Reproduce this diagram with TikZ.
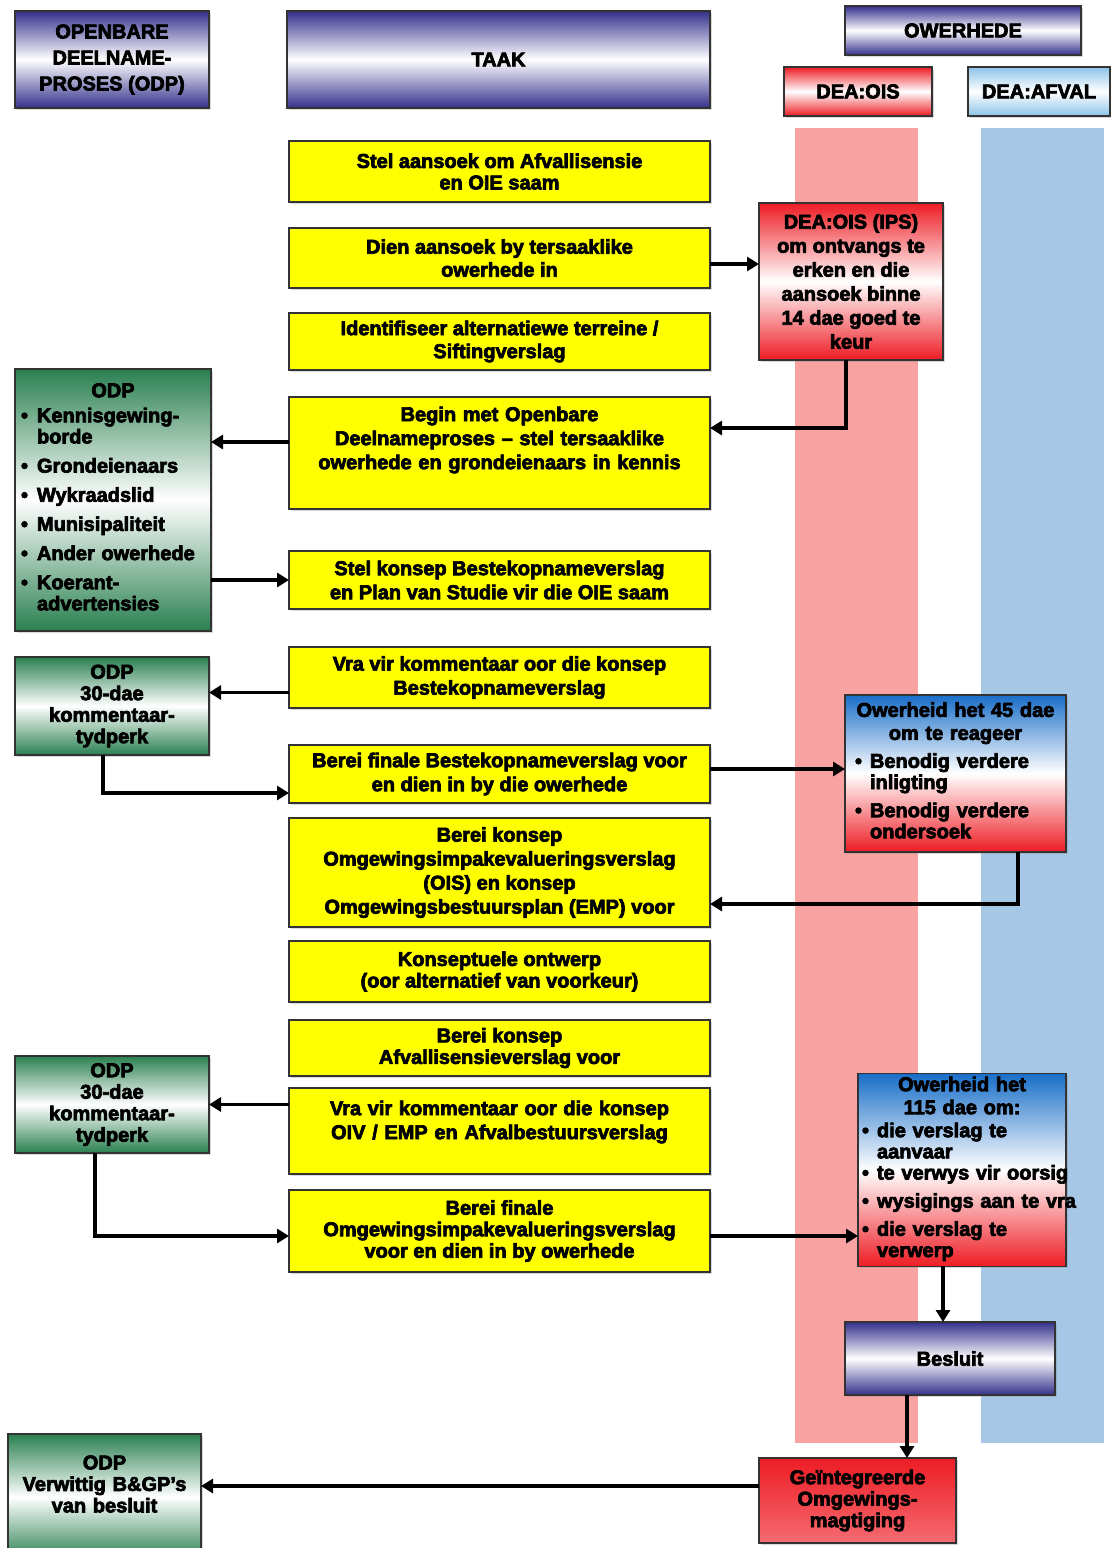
\documentclass[tikz,border=0pt]{standalone}
\usepackage{fontspec}
\setmainfont{Liberation Sans}[BoldFeatures={FakeBold=3.5}]
\usetikzlibrary{positioning,arrows.meta,shadows}
\definecolor{donkerblou}{RGB}{52,48,140}
\definecolor{groen}{RGB}{42,128,80}
\definecolor{rooi}{RGB}{238,28,36}
\definecolor{blou}{RGB}{25,110,200}
\definecolor{ligblou}{RGB}{140,195,232}
\definecolor{pienk}{RGB}{248,162,162}
\definecolor{kolomblou}{RGB}{166,200,230}
\definecolor{geel}{RGB}{255,255,0}
\renewcommand{\arraystretch}{0.92}

\begin{document}
\begin{tikzpicture}[x=1pt,y=-1pt,
			every node/.style={draw=black!80,line width=1.3pt,inner sep=3pt,outer sep=0pt,align=center,
				font=\fontsize{20}{23}\selectfont\bfseries,
				drop shadow={opacity=0.3,shadow xshift=2pt,shadow yshift=-2pt}},
			nou/.style={font=\fontsize{20}{21.5}\selectfont\bfseries},
			wyd/.style={font=\fontsize{20}{24}\selectfont\bfseries},
			kop/.style={top color=donkerblou,bottom color=donkerblou,middle color=white},
			taak/.style={fill=geel,minimum width=421pt},
			odp/.style={top color=groen,bottom color=groen,middle color=white},
			rooiblok/.style={top color=rooi,bottom color=rooi,middle color=white},
			afvalblok/.style={top color=ligblou,bottom color=ligblou,middle color=white},
			owerheid/.style={top color=blou,bottom color=rooi,middle color=white},
			pyl/.style={line width=3.5pt,-{Triangle[length=12pt,width=14pt]}},
			maat/.style 2 args={minimum width=#1pt,minimum height=#2pt}
			]
		\useasboundingbox (0,0) rectangle (1111,1548);
		\fill[pienk] (795,128) rectangle (918,1443);
		\fill[kolomblou] (981,128) rectangle (1104,1443);

		\node[kop,maat={194}{97}] (kop1) at (112,59.5) {OPENBARE\\[3pt]DEELNAME-\\[3pt]PROSES (ODP)};
		\node[kop,maat={423}{97}] (kop2) at (498.5,59.5) {TAAK};
		\node[kop,maat={236}{49}] (kop3) at (963,30.5) {OWERHEDE};
		\node[rooiblok,maat={148}{49}] (ois) at (858,91.5) {DEA:OIS};
		\node[afvalblok,maat={142}{49}] (afval) at (1039,91.5) {DEA:AFVAL};

		\node[taak,nou,minimum height=61pt] (t1) at (499.5,171.5) {Stel aansoek om Afvallisensie\\en OIE saam};
		\node[taak,minimum height=60pt] (t2) at (499.5,258) {Dien aansoek by tersaaklike\\owerhede in};
		\node[taak,minimum height=57pt] (t3) at (499.5,341.5) {Identifiseer alternatiewe terreine /\\Siftingverslag};
		\node[taak,wyd,minimum height=112pt,text width=415pt] (t4) at (499.5,453) {Begin met Openbare\\Deelnameproses – stel tersaaklike\\owerhede en grondeienaars in kennis\par\vspace{26pt}\nointerlineskip\hbox{}};
		\node[taak,wyd,minimum height=58pt] (t5) at (499.5,580) {Stel konsep Bestekopnameverslag\\en Plan van Studie vir die OIE saam};
		\node[taak,wyd,minimum height=61pt] (t6) at (499.5,677.5) {Vra vir kommentaar oor die konsep\\Bestekopnameverslag};
		\node[taak,wyd,minimum height=58pt] (t7) at (499.5,774) {Berei finale Bestekopnameverslag voor\\en dien in by die owerhede};
		\node[taak,wyd,minimum height=109pt] (t8) at (499.5,872.5) {Berei konsep\\Omgewingsimpakevalueringsverslag\\(OIS) en konsep\\Omgewingsbestuursplan (EMP) voor};
		\node[taak,nou,minimum height=61pt] (t9) at (499.5,971.5) {Konseptuele ontwerp\\(oor alternatief van voorkeur)};
		\node[taak,nou,minimum height=56pt] (t10) at (499.5,1048) {Berei konsep\\Afvallisensieverslag voor};
		\node[taak,wyd,minimum height=86pt,text width=415pt] (t11) at (499.5,1131) {Vra vir kommentaar oor die konsep\\OIV / EMP en Afvalbestuursverslag\par\vspace{18pt}\nointerlineskip\hbox{}};
		\node[taak,nou,minimum height=82pt] (t12) at (499.5,1231) {Berei finale\\Omgewingsimpakevalueringsverslag\\voor en dien in by owerhede};

		\node[odp,maat={196}{262},text width=188pt] (odp1) at (113,500) {ODP\\[2pt]
			\makebox[188pt][l]{\hspace{2pt}\begin{tabular}[t]{@{}l@{\hspace{9pt}}l@{}}
				\textbullet & Kennisgewing-\\
				& borde\\[8pt]
				\textbullet & Grondeienaars\\[8pt]
				\textbullet & Wykraadslid\\[8pt]
				\textbullet & Munisipaliteit\\[8pt]
				\textbullet & Ander owerhede\\[8pt]
				\textbullet & Koerant-\\
				& advertensies
			\end{tabular}}};
		\node[odp,nou,maat={194}{98}] (odp2) at (112,706) {ODP\\30-dae\\kommentaar-\\tydperk};
		\node[odp,nou,maat={194}{97}] (odp3) at (112,1104.5) {ODP\\30-dae\\kommentaar-\\tydperk};
		\node[odp,nou,maat={193}{126},text width=187pt] (odp4) at (104.5,1497) {ODP\\Verwittig B\&GP’s\\van besluit\par\vspace{26pt}\nointerlineskip\hbox{}};

		\node[rooiblok,wyd,maat={184}{157}] (ips) at (851,281.5) {DEA:OIS (IPS)\\om ontvangs te\\erken en die\\aansoek binne\\14 dae goed te\\keur};
		\node[owerheid,maat={221}{157},text width=213pt] (ow45) at (955.5,773.5) {Owerheid het 45 dae\\om te reageer\\[5pt]
			\makebox[213pt][l]{\hspace{6pt}\begin{tabular}[t]{@{}l@{\hspace{8pt}}l@{}}
				\textbullet & Benodig verdere\\
				& inligting\\[7pt]
				\textbullet & Benodig verdere\\
				& ondersoek
			\end{tabular}}};
		\node[owerheid,maat={208}{188},text width=200pt] (ow115) at (962,1170) {Owerheid het\\115 dae om:\\
			\makebox[200pt][l]{\begin{tabular}[t]{@{}l@{\hspace{8pt}}l@{}}
				\textbullet & die verslag te\\
				& aanvaar\\
				\textbullet & te verwys vir oorsig\\[7pt]
				\textbullet & wysigings aan te vra\\[7pt]
				\textbullet & die verslag te\\
				& verwerp
			\end{tabular}}};
		\node[kop,maat={210}{73}] (besluit) at (950,1358.5) {Besluit};
		\node[top color=rooi,bottom color=rooi!65!white,nou,maat={197}{85}] (gom) at (857.5,1500.5) {Geïntegreerde\\Omgewings-\\magtiging};

		\draw[pyl] ([yshift=-6pt]t2.east) -- ([yshift=-6pt]t2.east -| ips.west);
		\draw[pyl] ([xshift=-5pt]ips.south) |- ([yshift=25pt]t4.east);
		\draw[pyl] ([yshift=11pt]t4.west) -- ([yshift=11pt]t4.west -| odp1.east);
		\draw[pyl] (t5.west -| odp1.east) -- (t5.west);
		\draw[pyl] ([yshift=-15pt]t6.west) -- ([yshift=-15pt]t6.west -| odp2.east);
		\draw[pyl] ([xshift=-9pt]odp2.south) |- ([yshift=-19pt]t7.west);
		\draw[pyl] ([yshift=5pt]t7.east) -- ([yshift=5pt]t7.east -| ow45.west);
		\draw[pyl] ([xshift=62.5pt]ow45.south) |- ([yshift=-31.5pt]t8.east);
		\draw[pyl] (odp3.east -| t11.west) -- (odp3.east);
		\draw[pyl] ([xshift=-17pt]odp3.south) |- ([yshift=-5pt]t12.west);
		\draw[pyl] ([yshift=-5pt]t12.east) -- ([yshift=-5pt]t12.east -| ow115.west);
		\draw[pyl] ([xshift=-19pt]ow115.south) -- ([xshift=-19pt]ow115.south |- besluit.north);
		\draw[pyl] ([xshift=-43pt]besluit.south) -- ([xshift=-43pt]besluit.south |- gom.north);
		\draw[pyl] ([yshift=14.5pt]gom.west) -- ([yshift=14.5pt]gom.west -| odp4.east);
	\end{tikzpicture}
\end{document}
